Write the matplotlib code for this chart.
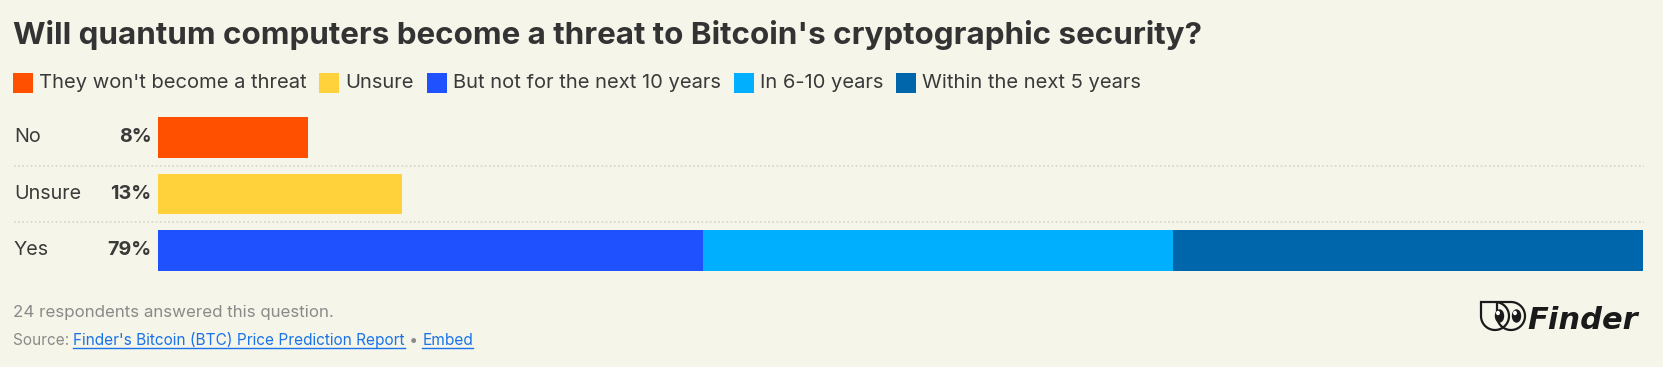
import matplotlib
matplotlib.use("Agg")
import matplotlib.pyplot as plt
import matplotlib.transforms as mtransforms
from matplotlib.patches import Rectangle, Polygon, Ellipse
from matplotlib.lines import Line2D
import numpy as np

W, H = 1663, 367
BG = "#f5f5ea"
FONT = "Inter"

# chart data
title = "Will quantum computers become a threat to Bitcoin's cryptographic security?"
series_names = ["They won't become a threat", "Unsure", "But not for the next 10 years",
                "In 6-10 years", "Within the next 5 years"]
series_colors = ["#ff5000", "#ffd23c", "#2051ff", "#00b0ff", "#0066ab"]
rows = ["No", "Unsure", "Yes"]
row_totals = [8, 13, 79]
no_values = [8, 0, 0, 0, 0]
unsure_values = [0, 13, 0, 0, 0]
yes_values = [0, 0, 29, 25, 25]
footnote = "24 respondents answered this question."
source_link = "Finder's Bitcoin (BTC) Price Prediction Report"


# pixel helpers (image coords, y down)
def fx(x):
    return x / W


def fy(y):
    return 1 - y / H


fig = plt.figure(figsize=(W / 100, H / 100), dpi=100)
fig.patch.set_facecolor(BG)
pix = mtransforms.Affine2D().scale(1 / W, -1 / H).translate(0, 1) + fig.transFigure

# bar area
ax = fig.add_axes([fx(158), fy(270.7), (1643 - 158) / W, (270.7 - 117) / H])
ax.set_facecolor("none")
bar_h = 0.717
ypos = np.arange(len(rows))
table = np.array([no_values, unsure_values, yes_values])
left = np.zeros(len(rows))
for i, color in enumerate(series_colors):
    vals = table[:, i]
    ax.barh(ypos, vals, left=left, height=bar_h, color=color, linewidth=0)
    left += vals
ax.set_xlim(0, max(row_totals))
ax.set_ylim(len(rows) - 1 + bar_h / 2, -bar_h / 2)
ax.axis("off")

# dotted separators, row labels and totals
blend = mtransforms.blended_transform_factory(fig.transFigure, ax.transData)
for k in range(len(rows) - 1):
    fig.add_artist(Line2D([fx(14), fx(1644)], [k + 0.5, k + 0.5], transform=blend,
                          color="#d6d6cc", lw=1.2, ls=(0, (1, 1.5))))
for k, (name, tot) in enumerate(zip(rows, row_totals)):
    fig.text(fx(14), k, name, transform=blend, va="center", ha="left",
             fontsize=14.2, color="#3a3a3a", family=FONT)
    fig.text(fx(151.5), k, f"{tot}%", transform=blend, va="center", ha="right",
             fontsize=14.2, color="#3a3a3a", family=FONT, fontweight="bold")

# title
fig.text(fx(13), fy(44), title, va="baseline", ha="left", fontsize=22.6,
         fontweight="bold", color="#333333", family=FONT)

# legend laid out left to right
fig.canvas.draw()
renderer = fig.canvas.get_renderer()
x = 12.7
for name, color in zip(series_names, series_colors):
    fig.add_artist(Rectangle((x, 73), 20, 20, transform=pix, color=color, lw=0))
    t = fig.text(fx(x + 26), fy(83), name, va="center", ha="left", fontsize=14.5,
                 color="#3a3a3a", family=FONT)
    w = t.get_window_extent(renderer).width
    x = x + 26 + w + 13

# footer
fig.text(fx(12.7), fy(313), footnote, va="center", ha="left", fontsize=12.2,
         color="#8a8a8a", family=FONT)
x = 12.7
pieces = [("Source: ", "#8a8a8a", False), (source_link, "#1a73e8", True),
          (" \u2022 ", "#8a8a8a", False), ("Embed", "#1a73e8", True)]
for txt, col, link in pieces:
    t = fig.text(fx(x), fy(345), txt, va="baseline", ha="left", fontsize=11.1,
                 color=col, family=FONT)
    w = t.get_window_extent(renderer).width
    if link:
        fig.add_artist(Line2D([fx(x), fx(x + w)], [fy(348), fy(348)], color=col, lw=1))
    x += w

# Finder logo
fig.text(fx(1527), fy(329), "Finder", va="baseline", ha="left", fontsize=22,
         fontweight="bold", style="oblique", color="#1a1a1a", family="DejaVu Sans")


def teardrop(x0, y0, s):
    r = s / 2
    cx, cy = x0 + r, y0 + r
    ang = np.linspace(np.pi / 2, -np.pi, 60)
    pts = [(cx + r * np.cos(a), cy - r * np.sin(a)) for a in ang]
    pts.append((x0, y0))
    return pts


for x0 in (1481, 1497):
    fig.add_artist(Polygon(teardrop(x0, 302, 28), closed=True, transform=pix,
                           facecolor="none", edgecolor="#1a1a1a", lw=1.6))
for cx in (1499.5, 1516.5):
    fig.add_artist(Ellipse((cx, 316), 8, 12, transform=pix, color="#1a1a1a"))
    fig.add_artist(Ellipse((cx - 1.5, 313), 2.5, 3, transform=pix, color="white"))

fig.savefig("out.png", dpi=100, facecolor=BG)
